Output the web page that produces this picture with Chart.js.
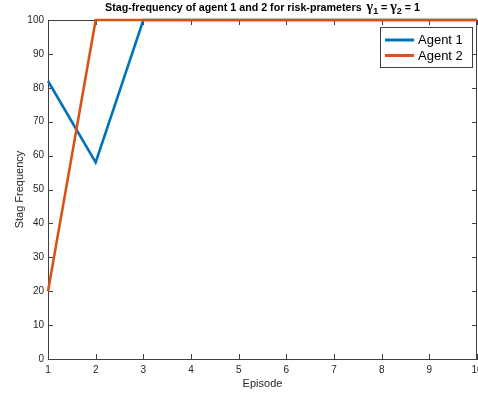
<!DOCTYPE html>
<html>
<head>
<meta charset="utf-8">
<script src="https://cdn.jsdelivr.net/npm/chart.js@4.4.1/dist/chart.umd.min.js"></script>
<style>
  html, body { margin: 0; padding: 0; background: #fff; overflow: hidden; }
  #wrap { width: 478px; height: 395px; }
</style>
</head>
<body>
<div id="wrap"><canvas id="chart"></canvas></div>
<script>
// episodes on the x axis and stag frequency per agent
const episodes = [1, 2, 3, 4, 5, 6, 7, 8, 9, 10];
const agent1 = [82, 58, 100, 100, 100, 100, 100, 100, 100, 100];
const agent2 = [20, 100, 100, 100, 100, 100, 100, 100, 100, 100];
const yTicks = [0, 10, 20, 30, 40, 50, 60, 70, 80, 90, 100];

const FONT = "'Liberation Sans', Arial, Helvetica, sans-serif";
const SYM = "'Liberation Serif', 'DejaVu Serif', serif";
const AXIS = "#404040";
const TEXT = "#262626";

// box on the top/right plus inward tick marks, like a matlab axes
const boxTicks = {
  id: "boxTicks",
  beforeDatasetsDraw(chart) {
    const { ctx, chartArea: a, scales } = chart;
    ctx.save();
    ctx.strokeStyle = AXIS;
    ctx.lineWidth = 1;
    ctx.beginPath();
    ctx.moveTo(a.left, a.top + 0.5);
    ctx.lineTo(a.right, a.top + 0.5);
    ctx.moveTo(a.right - 0.5, a.top);
    ctx.lineTo(a.right - 0.5, a.bottom);
    const len = 5;
    scales.x.ticks.forEach((t, i) => {
      const x = Math.round(scales.x.getPixelForTick(i)) + 0.5;
      ctx.moveTo(x, a.bottom);
      ctx.lineTo(x, a.bottom - len);
      ctx.moveTo(x, a.top);
      ctx.lineTo(x, a.top + len);
    });
    scales.y.ticks.forEach((t, i) => {
      const y = Math.round(scales.y.getPixelForTick(i)) + 0.5;
      ctx.moveTo(a.left, y);
      ctx.lineTo(a.left + len, y);
      ctx.moveTo(a.right, y);
      ctx.lineTo(a.right - len, y);
    });
    ctx.stroke();
    ctx.restore();
  }
};

// title with gamma subscripts
const titleText = {
  id: "titleText",
  afterDraw(chart) {
    const { ctx, chartArea: a } = chart;
    const parts = [
      { t: "Stag-frequency of agent 1 and 2 for risk-prameters", f: "bold 10.7px " + FONT, dy: 0, gap: 5 },
      { t: "\u03B3", f: "bold 14px " + SYM, dy: 0, gap: 0 },
      { t: "1", f: "bold 9px " + FONT, dy: 3, gap: 0 },
      { t: " = ", f: "bold 10.7px " + FONT, dy: 0, gap: 0 },
      { t: "\u03B3", f: "bold 14px " + SYM, dy: 0, gap: 0 },
      { t: "2", f: "bold 9px " + FONT, dy: 3, gap: 0 },
      { t: " = 1", f: "bold 10.7px " + FONT, dy: 0, gap: 0 }
    ];
    ctx.save();
    ctx.fillStyle = "#000";
    ctx.textBaseline = "alphabetic";
    let total = 0;
    parts.forEach(p => { ctx.font = p.f; p.w = ctx.measureText(p.t).width + p.gap; total += p.w; });
    let x = (a.left + a.right) / 2 - total / 2;
    const base = 10.5;
    parts.forEach(p => {
      ctx.font = p.f;
      ctx.fillText(p.t, x, base + p.dy);
      x += p.w;
    });
    ctx.restore();
  }
};

// boxed legend in the upper right corner
const boxLegend = {
  id: "boxLegend",
  afterDraw(chart) {
    const { ctx } = chart;
    const left = 380, top = 27, w = 92, h = 40;
    ctx.save();
    ctx.fillStyle = "#fff";
    ctx.fillRect(left, top, w, h);
    ctx.strokeStyle = AXIS;
    ctx.lineWidth = 1;
    ctx.strokeRect(left + 0.5, top + 0.5, w, h);
    ctx.font = "13px " + FONT;
    ctx.textBaseline = "middle";
    chart.data.datasets.forEach((ds, i) => {
      const y = top + 13 + i * 15.5;
      ctx.strokeStyle = ds.borderColor;
      ctx.lineWidth = 3;
      ctx.beginPath();
      ctx.moveTo(385, y);
      ctx.lineTo(414, y);
      ctx.stroke();
      ctx.fillStyle = "#000";
      ctx.fillText(ds.label, 418, y + 0.5);
    });
    ctx.restore();
  }
};

new Chart(document.getElementById("chart"), {
  type: "line",
  data: {
    labels: episodes,
    datasets: [
      {
        label: "Agent 1",
        data: agent1,
        borderColor: "#0072BD",
        borderWidth: 2.6,
        pointRadius: 0,
        tension: 0,
        clip: false,
        order: 1
      },
      {
        label: "Agent 2",
        data: agent2,
        borderColor: "#D95319",
        borderWidth: 2.6,
        pointRadius: 0,
        tension: 0,
        clip: false,
        order: 0
      }
    ]
  },
  options: {
    responsive: true,
    maintainAspectRatio: false,
    animation: false,
    layout: { padding: { top: 20, right: 1, bottom: 0, left: 0 } },
    plugins: {
      legend: { display: false },
      title: { display: false },
      tooltip: { enabled: false }
    },
    scales: {
      x: {
        type: "category",
        offset: false,
        grid: { display: false, drawTicks: false },
        border: { display: true, color: AXIS, width: 1 },
        ticks: {
          color: TEXT,
          font: { family: FONT, size: 10 },
          padding: 5,
          maxRotation: 0,
          autoSkip: false
        },
        title: {
          display: true,
          text: "Episode",
          color: TEXT,
          font: { family: FONT, size: 11 },
          padding: { top: 0, bottom: 4 }
        },
        afterFit(scale) {
          scale.height = 36;
          scale.paddingLeft = 0;
          scale.paddingRight = 0;
        }
      },
      y: {
        min: 0,
        max: 100,
        afterBuildTicks(scale) {
          scale.ticks = yTicks.map(v => ({ value: v }));
        },
        grid: { display: false, drawTicks: false },
        border: { display: true, color: AXIS, width: 1 },
        ticks: {
          color: TEXT,
          font: { family: FONT, size: 10 },
          padding: 4
        },
        title: {
          display: true,
          text: "Stag Frequency",
          color: TEXT,
          font: { family: FONT, size: 11 },
          padding: { top: 13, bottom: 0 }
        },
        afterFit(scale) {
          scale.width = 48;
          scale.paddingTop = 0;
          scale.paddingBottom = 0;
        }
      }
    }
  },
  plugins: [boxTicks, titleText, boxLegend]
});
</script>
</body>
</html>
